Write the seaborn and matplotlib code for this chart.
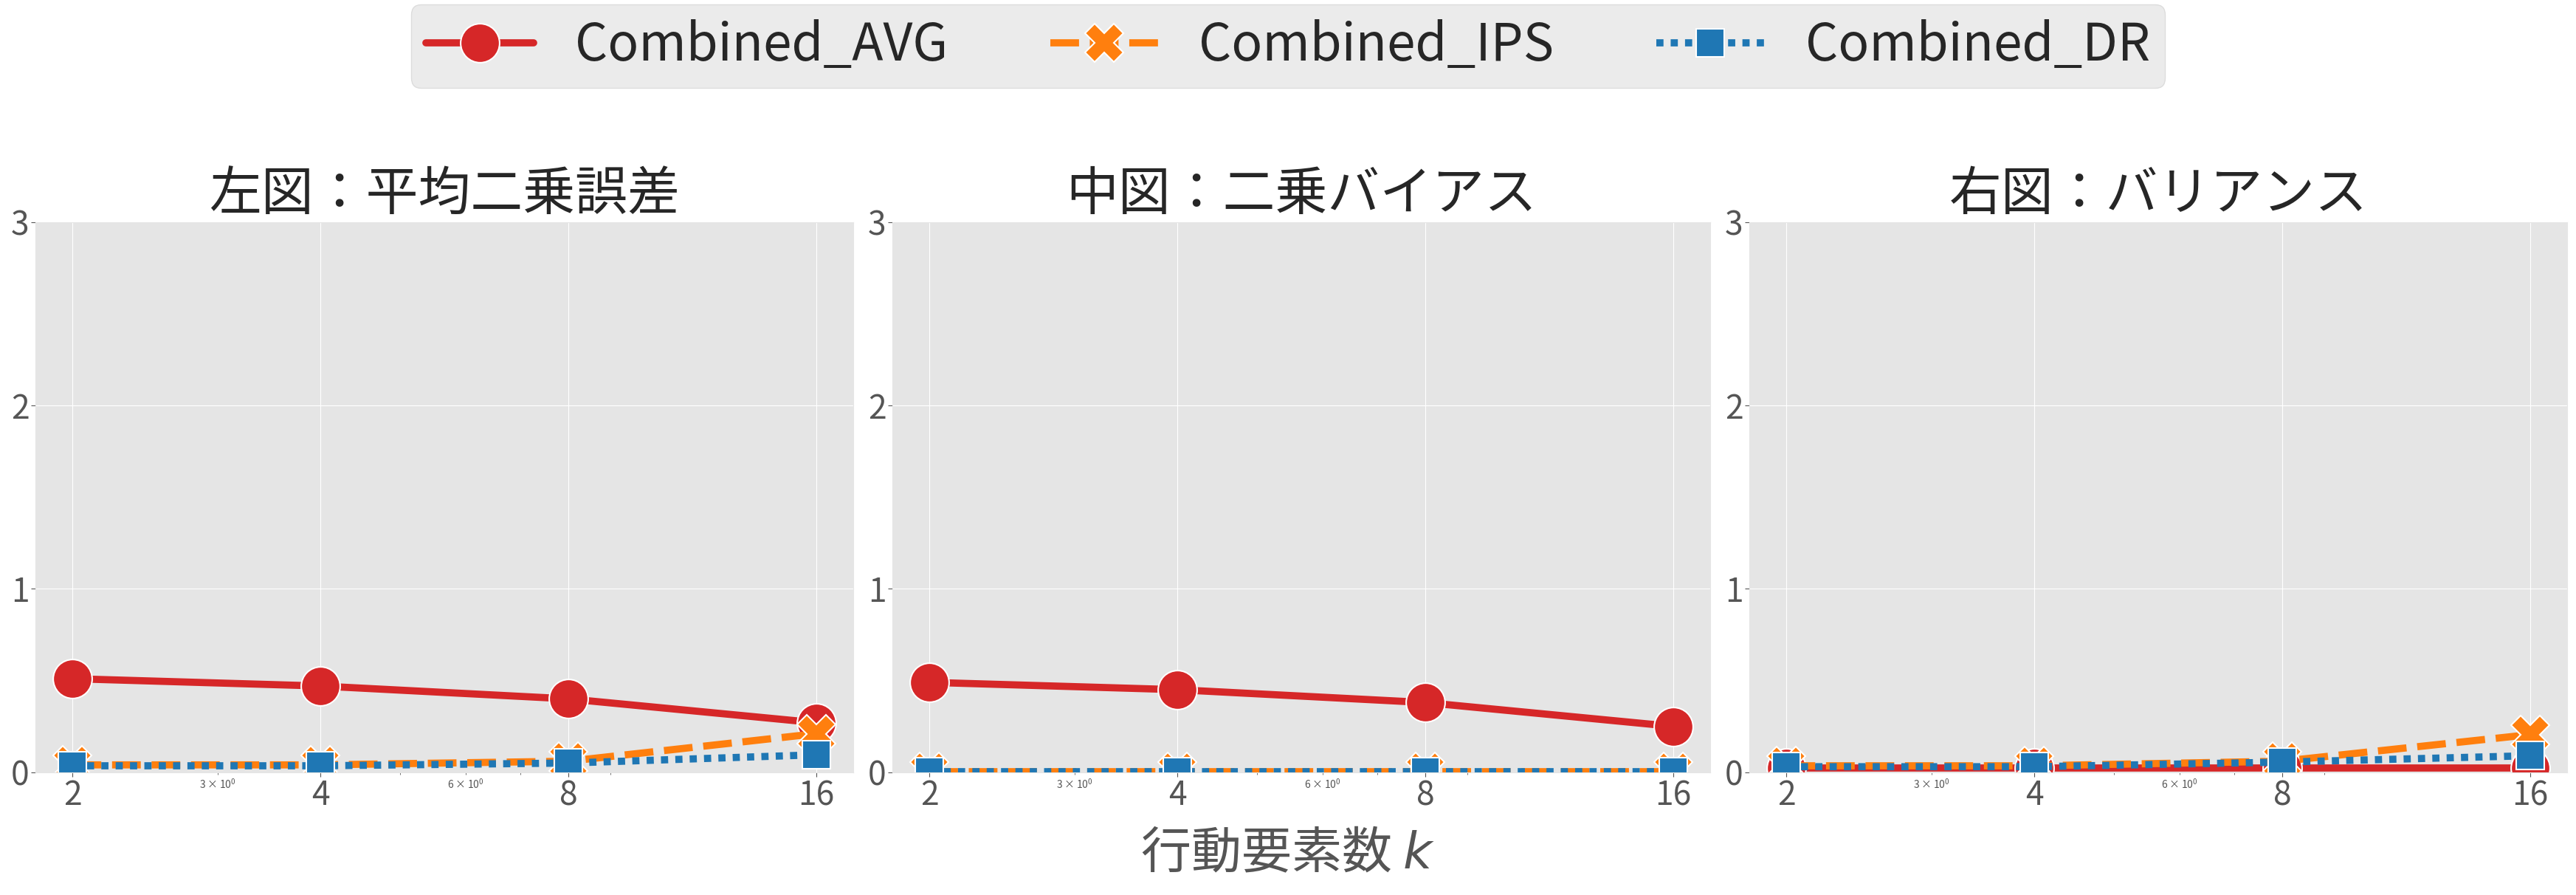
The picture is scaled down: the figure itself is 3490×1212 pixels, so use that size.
import numpy as np
import pandas as pd
import seaborn as sns
import matplotlib.pyplot as plt

# data
ks = [2, 4, 8, 16]
estimators = ["Combined_AVG", "Combined_IPS", "Combined_DR"]
titles = ["左図：平均二乗誤差", "中図：二乗バイアス", "右図：バリアンス"]

mse_avg = [0.51, 0.47, 0.40, 0.27]
mse_ips = [0.04, 0.04, 0.06, 0.21]
mse_dr = [0.035, 0.035, 0.05, 0.095]

bias_avg = [0.49, 0.45, 0.38, 0.25]
bias_ips = [0.003, 0.003, 0.003, 0.003]
bias_dr = [0.002, 0.002, 0.002, 0.002]

var_avg = [0.025, 0.025, 0.025, 0.025]
var_ips = [0.035, 0.035, 0.06, 0.205]
var_dr = [0.03, 0.03, 0.055, 0.09]

panels = [
    [mse_avg, mse_ips, mse_dr],
    [bias_avg, bias_ips, bias_dr],
    [var_avg, var_ips, var_dr],
]

sns.set_style("darkgrid", {
    "axes.facecolor": "#e5e5e5",
    "grid.color": "white",
    "axes.edgecolor": "#e5e5e5",
    "xtick.bottom": True,
    "ytick.left": True,
    "xtick.color": "#555555",
    "ytick.color": "#555555",
})
plt.rcParams["font.family"] = ["Noto Sans CJK JP", "DejaVu Sans"]
plt.rcParams["axes.unicode_minus"] = False

palette = {"Combined_AVG": "#d62728", "Combined_IPS": "#ff7f0e", "Combined_DR": "#1f77b4"}

fig = plt.figure(figsize=(34.9, 12.12), dpi=100)
lefts = [0.01375, 0.3464, 0.6791]
width = 0.3175
axes = [fig.add_axes([l, 0.1372, width, 0.6147]) for l in lefts]

for ax, title, vals in zip(axes, titles, panels):
    df = pd.DataFrame({
        "k": ks * 3,
        "value": vals[0] + vals[1] + vals[2],
        "est": np.repeat(estimators, len(ks)),
    })
    # seaborn default markers/dashes: o, X, square ; solid, dashed, dotted
    sns.lineplot(data=df, x="k", y="value", hue="est", style="est",
                 palette=palette, markers=True, dashes=True,
                 hue_order=estimators, style_order=estimators,
                 linewidth=7, markersize=38, markeredgecolor="white",
                 markeredgewidth=1.5, ax=ax, legend=(ax is axes[0]))
    ax.set_xscale("log")
    ax.set_xticks(ks)
    ax.set_xticklabels([str(k) for k in ks])
    ax.tick_params(axis="both", which="major", labelsize=32, length=4, pad=2)
    ax.tick_params(axis="x", which="minor", labelsize=10, colors="#555555")
    ax.set_ylim(0, 3)
    ax.set_yticks([0, 1, 2, 3])
    ax.set_title(title, fontsize=51, pad=12)
    ax.set_xlabel("")
    ax.set_ylabel("")

handles, labels = axes[0].get_legend_handles_labels()
axes[0].get_legend().remove()
fig.legend(handles, labels, loc="upper center", bbox_to_anchor=(0.5, 0.995),
           ncol=3, fontsize=50, frameon=True, facecolor="#ebebeb",
           edgecolor="#dcdcdc", framealpha=1, handlelength=2.1,
           columnspacing=2.0, borderpad=0.3, borderaxespad=0)

fig.text(0.5, 0.045, "行動要素数 $k$", ha="center", va="center",
         fontsize=49, color="#555555")

fig.savefig("out.png", dpi=100)
